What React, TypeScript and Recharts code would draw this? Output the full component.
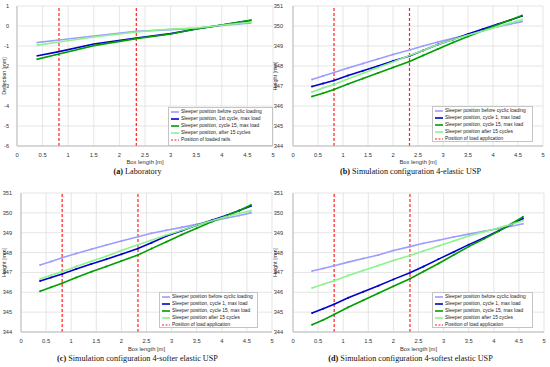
import { LineChart, Line, XAxis, YAxis, CartesianGrid, ReferenceLine } from "recharts";

// box length positions [m]
const labX = [0.38, 0.82, 1.5, 2.33, 3.0, 3.5, 4.0, 4.58];
const simX = [0.38, 0.6, 0.82, 1.1, 1.4, 1.7, 2.0, 2.33, 2.6, 2.9, 3.2, 3.5, 3.8, 4.1, 4.35, 4.58];

// (a) laboratory deflection [mm]
const labBefore = [-0.83, -0.7, -0.5, -0.27, -0.18, -0.12, 0.03, 0.15];
const labFirst = [-1.5, -1.28, -0.9, -0.6, -0.38, -0.15, 0.05, 0.28];
const labC15 = [-1.67, -1.4, -0.98, -0.63, -0.4, -0.15, 0.05, 0.3];
const labAfter = [-0.97, -0.8, -0.55, -0.3, -0.15, -0.1, 0.04, 0.2];

// (b) 4-elastic USP height [mm]
const bBefore = [347.33, 347.5, 347.68, 347.9, 348.12, 348.35, 348.57, 348.8, 349.0, 349.2, 349.38, 349.56, 349.76, 349.97, 350.1, 350.22];
const bCycle1 = [346.97, 347.12, 347.28, 347.52, 347.76, 348.0, 348.25, 348.5, 348.78, 349.08, 349.33, 349.6, 349.85, 350.1, 350.3, 350.5];
const bCycle15 = [346.47, 346.64, 346.83, 347.1, 347.38, 347.65, 347.93, 348.23, 348.52, 348.85, 349.18, 349.48, 349.78, 350.07, 350.3, 350.53];
const bAfter = [346.7, 346.9, 347.08, 347.36, 347.64, 347.92, 348.2, 348.52, 348.78, 349.07, 349.32, 349.55, 349.75, 349.97, 350.15, 350.33];

// (c) 4-softer elastic USP
const cBefore = [347.37, 347.55, 347.74, 347.95, 348.17, 348.38, 348.58, 348.8, 348.97, 349.12, 349.27, 349.42, 349.58, 349.74, 349.87, 350.0];
const cCycle1 = [346.57, 346.74, 346.92, 347.17, 347.42, 347.66, 347.92, 348.2, 348.5, 348.83, 349.1, 349.37, 349.63, 349.88, 350.12, 350.35];
const cCycle15 = [346.05, 346.25, 346.45, 346.75, 347.03, 347.3, 347.58, 347.88, 348.2, 348.55, 348.9, 349.22, 349.55, 349.85, 350.12, 350.4];
const cAfter = [346.67, 346.86, 347.04, 347.3, 347.56, 347.82, 348.1, 348.39, 348.62, 348.88, 349.12, 349.38, 349.6, 349.82, 349.98, 350.1];

// (d) 4-softest elastic USP
const dBefore = [347.07, 347.2, 347.34, 347.52, 347.7, 347.88, 348.1, 348.3, 348.47, 348.62, 348.78, 348.93, 349.07, 349.2, 349.33, 349.45];
const dCycle1 = [344.96, 345.17, 345.4, 345.72, 346.03, 346.33, 346.65, 346.98, 347.3, 347.67, 348.03, 348.4, 348.73, 349.1, 349.42, 349.72];
const dCycle15 = [344.37, 344.6, 344.88, 345.25, 345.6, 345.95, 346.3, 346.68, 347.05, 347.45, 347.88, 348.3, 348.68, 349.08, 349.45, 349.8];
const dAfter = [346.22, 346.4, 346.58, 346.85, 347.1, 347.35, 347.6, 347.85, 348.08, 348.33, 348.58, 348.83, 349.05, 349.25, 349.43, 349.6];

const loadPositions = [0.82, 2.33];
const xTicks = [0, 0.5, 1, 1.5, 2, 2.5, 3, 3.5, 4, 4.5, 5];
const labYTicks = [-6, -5, -4, -3, -2, -1, 0, 1];
const simYTicks = [344, 345, 346, 347, 348, 349, 350, 351];

const labLegend = [
  "Sleeper position before cyclic loading",
  "Sleeper position, 1st cycle, max load",
  "Sleeper position, cycle 15, max load",
  "Sleeper position, after 15 cycles",
  "Position of loaded rails",
];
const simLegend = [
  "Sleeper position before cyclic loading",
  "Sleeper position, cycle 1, max load",
  "Sleeper position, cycle 15, max load",
  "Sleeper position after 15 cycles",
  "Position of load application",
];

const colors = ["#9d9dff", "#0000cc", "#009e00", "#8cf28c"];
const red = "#ff2020";
const sans = "'Liberation Sans', Arial, sans-serif";
const serif = "'Liberation Serif', 'DejaVu Serif', serif";

const toRows = (xs: number[], series: number[][]) =>
  xs.map((x, i) => ({ x, s0: series[0][i], s1: series[1][i], s2: series[2][i], s3: series[3][i] }));

type Box = { left: number; top: number; width: number; height: number };

type PanelProps = {
  left: number;
  top: number;
  yAxisW: number;
  yTickGap: number;
  yLabelX: number;
  right: number;
  xAxisH: number;
  rows: any[];
  yTicks: number[];
  yLabel: string;
  markers: boolean;
  legend: string[];
  legendBox: Box;
  caption: [string, string];
  captionTop: number;
};

function Legend({ items, box }: { items: string[]; box: Box }) {
  return (
    <div
      style={{
        position: "absolute",
        left: box.left,
        top: box.top,
        width: box.width,
        height: box.height,
        boxSizing: "border-box",
        background: "#fff",
        border: "1px solid #c4c4c4",
        fontFamily: sans,
        fontSize: 4.9,
        color: "#222",
        padding: "1px 2px",
        lineHeight: "6.9px",
        whiteSpace: "nowrap",
        overflow: "hidden",
      }}
    >
      {items.map((t, i) => (
        <div key={t} style={{ display: "flex", alignItems: "center", height: 6.9 }}>
          <svg width={8} height={6} style={{ marginRight: 2, flex: "none" }}>
            {i < 4 ? (
              <line x1={0} x2={8} y1={3} y2={3} stroke={colors[i]} strokeWidth={1.6} />
            ) : (
              <line x1={0} x2={8} y1={3} y2={3} stroke={red} strokeWidth={1.2} strokeDasharray="2 1.5" />
            )}
          </svg>
          <span>{t}</span>
        </div>
      ))}
    </div>
  );
}

function Panel(p: PanelProps) {
  const w = 275;
  const h = 175;
  return (
    <div style={{ position: "absolute", left: p.left, top: p.top, width: w, height: 190 }}>
      <LineChart width={w} height={h} data={p.rows} margin={{ top: 6, right: p.right, left: 0, bottom: 0 }}>
        <CartesianGrid stroke="#dedede" strokeWidth={0.8} />
        <XAxis
          dataKey="x"
          type="number"
          domain={[0, 5]}
          ticks={xTicks}
          interval={0}
          height={p.xAxisH}
          axisLine={{ stroke: "#bdbdbd" }}
          tickLine={false}
          tick={{ fontSize: 5.8, fill: "#333", fontFamily: sans }}
          tickMargin={1}
          label={{ value: "Box length [m]", position: "insideBottom", offset: 11, fontSize: 5.8, fill: "#333", fontFamily: sans }}
        />
        <YAxis
          type="number"
          domain={[p.yTicks[0], p.yTicks[p.yTicks.length - 1]]}
          ticks={p.yTicks}
          interval={0}
          width={p.yAxisW}
          axisLine={{ stroke: "#bdbdbd" }}
          tickLine={false}
          tick={{ fontSize: 5.6, fill: "#333", fontFamily: sans }}
          tickMargin={p.yTickGap}
          label={{ value: p.yLabel, angle: -90, position: "insideLeft", offset: p.yLabelX, fontSize: 5.4, fill: "#333", fontFamily: sans, style: { textAnchor: "middle" } }}
        />
        {loadPositions.map((x) => (
          <ReferenceLine key={x} x={x} stroke={red} strokeWidth={1.2} strokeDasharray="3 2" />
        ))}
        {["s0", "s1", "s2", "s3"].map((k, i) => (
          <Line
            key={k}
            dataKey={k}
            type="linear"
            stroke={colors[i]}
            strokeWidth={1.6}
            dot={p.markers ? { r: 1, fill: colors[i], stroke: "none" } : false}
            isAnimationActive={false}
          />
        ))}
      </LineChart>
      <Legend items={p.legend} box={p.legendBox} />
      <div
        style={{
          position: "absolute",
          left: 0,
          width: w,
          top: p.captionTop,
          textAlign: "center",
          fontFamily: serif,
          fontSize: 8.2,
          color: "#111",
        }}
      >
        <b>{p.caption[0]}</b> {p.caption[1]}
      </div>
    </div>
  );
}

export default function App() {
  return (
    <div style={{ position: "absolute", left: 0, top: 0, width: 550, height: 367, background: "#fff", overflow: "hidden" }}>
      <Panel
        left={0}
        top={0}
        yAxisW={17}
        yTickGap={2}
        yLabelX={4}
        right={2}
        xAxisH={29}
        rows={toRows(labX, [labBefore, labFirst, labC15, labAfter])}
        yTicks={labYTicks}
        yLabel="Deflection [mm]"
        markers={false}
        legend={labLegend}
        legendBox={{ left: 168, top: 107, width: 105, height: 39 }}
        caption={["(a)", "Laboratory"]}
        captionTop={167}
      />
      <Panel
        left={273}
        top={0}
        yAxisW={20}
        yTickGap={4}
        yLabelX={2}
        right={5}
        xAxisH={29}
        rows={toRows(simX, [bBefore, bCycle1, bCycle15, bAfter])}
        yTicks={simYTicks}
        yLabel="Height [mm]"
        markers={true}
        legend={simLegend}
        legendBox={{ left: 159, top: 106, width: 101, height: 36 }}
        caption={["(b)", "Simulation configuration 4-elastic USP"]}
        captionTop={167}
      />
      <Panel
        left={0}
        top={187}
        yAxisW={21}
        yTickGap={3}
        yLabelX={4}
        right={3}
        xAxisH={30}
        rows={toRows(simX, [cBefore, cCycle1, cCycle15, cAfter])}
        yTicks={simYTicks}
        yLabel="Height [mm]"
        markers={true}
        legend={simLegend}
        legendBox={{ left: 159, top: 105, width: 99, height: 36 }}
        caption={["(c)", "Simulation configuration 4-softer elastic USP"]}
        captionTop={167}
      />
      <Panel
        left={273}
        top={187}
        yAxisW={20}
        yTickGap={4}
        yLabelX={2}
        right={4}
        xAxisH={30}
        rows={toRows(simX, [dBefore, dCycle1, dCycle15, dAfter])}
        yTicks={simYTicks}
        yLabel="Height [mm]"
        markers={true}
        legend={simLegend}
        legendBox={{ left: 159, top: 105, width: 101, height: 36 }}
        caption={["(d)", "Simulation configuration 4-softest elastic USP"]}
        captionTop={167}
      />
    </div>
  );
}
